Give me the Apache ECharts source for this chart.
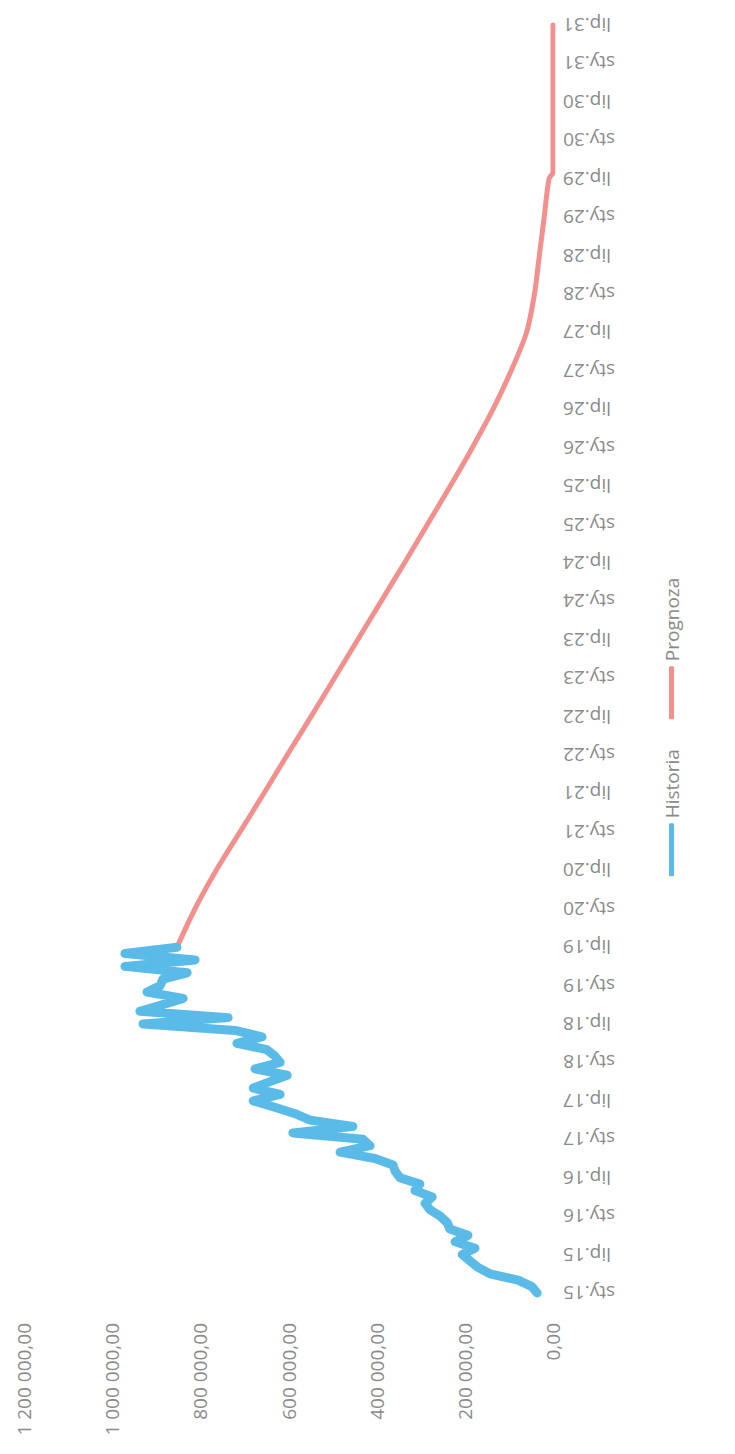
<!DOCTYPE html>
<html>
<head>
<meta charset="utf-8">
<script src="https://cdn.jsdelivr.net/npm/echarts@6/dist/echarts.min.js"></script>
<style>
html,body{margin:0;padding:0;width:735px;height:1454px;overflow:hidden;background:#fff;}
#chart{position:absolute;left:0;top:0;width:1454px;height:735px;transform-origin:0 0;transform:translate(0,1454px) rotate(-90deg);}
</style>
</head>
<body>
<div id="chart"></div>
<script>
// Month abbreviations (Polish) and year range for the category axis
const monthNames = ['sty','lut','mar','kwi','maj','cze','lip','sie','wrz','paź','lis','gru'];
const firstYear = 15, lastYear = 31, lastMonthIndex = 6; // ends at lip.31

// Historia: monthly values from sty.15 to lip.19
const historiaValues = [
  36000, 48000, 79000, 143000, 170000, 188000, 206000, 177000, 222000, 193000, 234000, 240000,
  256000, 279000, 290000, 274000, 313000, 302000, 347000, 358000, 363000, 404000, 483000, 415000,
  431000, 590000, 454000, 551000, 585000, 631000, 680000, 619000, 680000, 642000, 603000, 676000,
  619000, 631000, 649000, 717000, 660000, 721000, 930000, 737000, 937000, 887000, 839000, 921000,
  891000, 885000, 830000, 971000, 812000, 971000, 853000
];

// Prognoza: values read at these months
const prognozaMonths = ['lip.19','sty.20','lip.20','sty.21','lip.21','sty.22','lip.22','sty.23','lip.23','sty.24','lip.24','sty.25','lip.25','sty.26','lip.26','sty.27','lip.27','sty.28','lip.28','sty.29','lip.29','sie.29','sty.30','lip.30','sty.31','lip.31'];
const prognozaValues = [853000, 812000, 764000, 710000, 656000, 603000, 549000, 496000, 443000, 390000, 337000, 285000, 233000, 183000, 136000, 95000, 60000, 42000, 31000, 20000, 9000, 0, 0, 0, 0, 0];

const valueTicks = { min: 0, max: 1200000, interval: 200000 };

const categories = [];
for (let y = firstYear; y <= lastYear; y++) {
  for (let m = 0; m < 12; m++) {
    if (y === lastYear && m > lastMonthIndex) break;
    categories.push(monthNames[m] + '.' + y);
  }
}

function fmt(v) {
  const s = Math.round(v).toString().replace(/\B(?=(\d{3})+(?!\d))/g, ' ');
  return s + ',00';
}

const chart = echarts.init(document.getElementById('chart'), null, { renderer: 'svg', width: 1454, height: 735 });
const FONT = 'Open Sans';
chart.setOption({
  animation: false,
  backgroundColor: '#fff',
  grid: { left: 161, right: 25, top: 24, bottom: 182, containLabel: false },
  legend: {
    top: 657,
    left: 'center',
    itemWidth: 53,
    itemHeight: 5,
    itemGap: 30,
    icon: 'roundRect',
    textStyle: { color: '#8a8a8a', fontSize: 19, fontFamily: FONT },
    data: ['Historia', 'Prognoza']
  },
  xAxis: {
    type: 'category',
    data: categories,
    boundaryGap: false,
    axisLine: { show: false },
    axisTick: { show: false },
    axisLabel: {
      interval: 5,
      rotate: 90,
      margin: 10,
      color: '#8a8a8a',
      fontSize: 19,
      fontFamily: FONT
    }
  },
  yAxis: {
    type: 'value',
    min: valueTicks.min,
    max: valueTicks.max,
    interval: valueTicks.interval,
    splitLine: { show: false },
    axisLine: { show: false },
    axisTick: { show: false },
    axisLabel: {
      margin: 30,
      color: '#8a8a8a',
      fontSize: 19,
      fontFamily: FONT,
      formatter: fmt
    }
  },
  series: [
    {
      name: 'Historia',
      type: 'line',
      data: historiaValues,
      showSymbol: false,
      symbol: 'none',
      itemStyle: { color: '#5bbbe8' },
      lineStyle: { color: '#5bbbe8', width: 9, cap: 'round', join: 'round' },
      z: 3
    },
    {
      name: 'Prognoza',
      type: 'line',
      data: prognozaMonths.map((m, i) => [m, prognozaValues[i]]),
      smooth: 0.3,
      showSymbol: false,
      symbol: 'none',
      itemStyle: { color: '#f3908d' },
      lineStyle: { color: '#f3908d', width: 5, cap: 'round', join: 'round' },
      z: 2
    }
  ]
});
</script>
</body>
</html>
